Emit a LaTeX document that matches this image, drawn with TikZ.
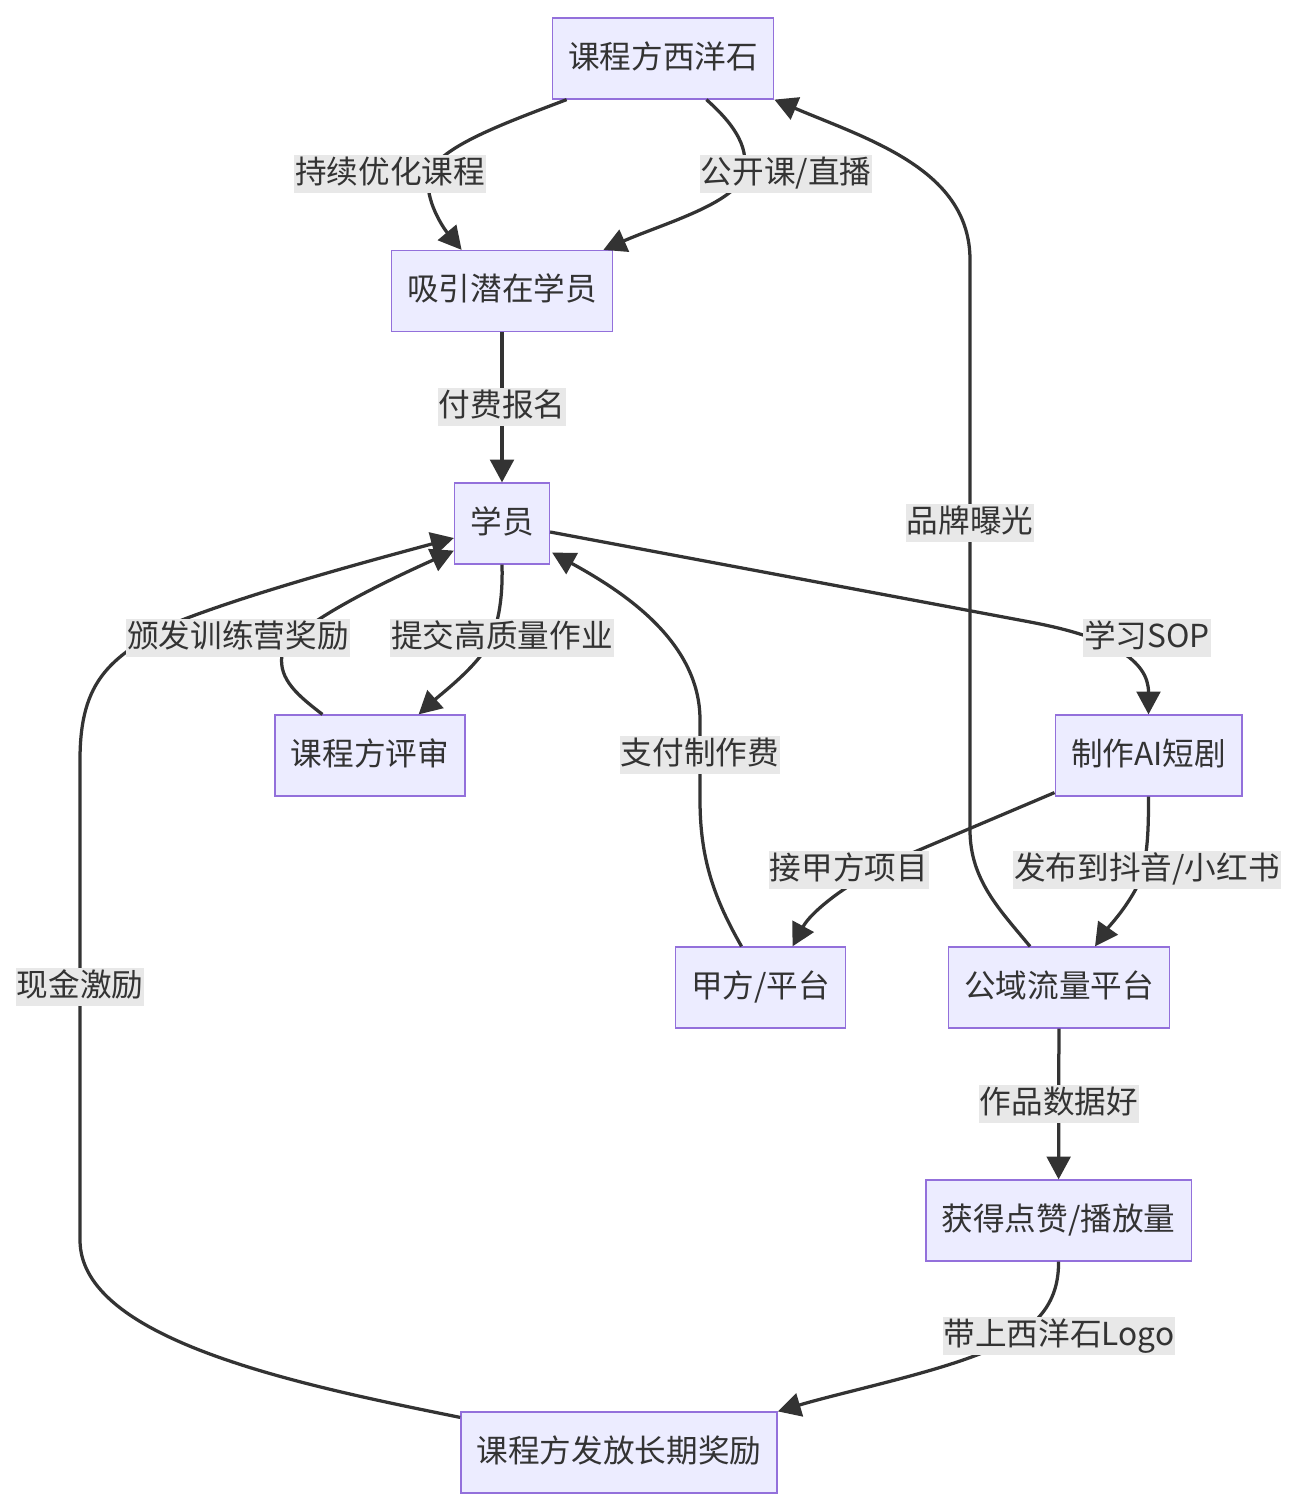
\documentclass[tikz,border=0pt]{standalone}
\usepackage{fontspec}
\setmainfont{Noto Sans CJK SC}
\usetikzlibrary{arrows.meta,calc}
\definecolor{nodefill}{HTML}{ECECFF}
\definecolor{nodeline}{HTML}{9370DB}
\definecolor{ink}{HTML}{333333}
\definecolor{wash}{HTML}{E8E8E8}
\tikzset{
  font=\fontsize{18}{22}\selectfont,
  box/.style={draw=nodeline, fill=nodefill, line width=0.8pt, text=ink, minimum height=46pt,
              inner xsep=9pt, inner ysep=0pt, text height=14.5pt, text depth=3.5pt},
  arrow/.style={-{Triangle[length=13pt,width=13.5pt]}, draw=ink, line width=1.85pt},
  tag/.style={fill=wash, text=ink, inner xsep=0.5pt, inner ysep=1.8pt, text height=14.5pt, text depth=3.5pt},
}

\begin{document}
\begin{tikzpicture}[x=0.02cm, y=-0.02cm]
\useasboundingbox (0,0) rectangle (1300,1510);
% nodes
\node[box] (xys) at (663,58.5) {课程方西洋石};
\node[box] (qz) at (502,291) {吸引潜在学员};
\node[box] (xy) at (502,523.5) {学员};
\node[box] (ps) at (370,755.5) {课程方评审};
\node[box] (zz) at (1148.5,755.5) {制作AI短剧};
\node[box] (jf) at (760.5,987.5) {甲方/平台};
\node[box] (gy) at (1059,987.5) {公域流量平台};
\node[box] (hz) at (1058.5,1220.5) {获得点赞/播放量};
\node[box] (jl) at (619,1452.5) {课程方发放长期奖励};

% edges
\draw[arrow] ($(xys.south west)+(15,0)$) .. controls (500,125) and (430,150) .. (428,180)
  .. controls (427,205) and (445,230) .. ($(qz.north west)+(71,0)$);
\draw[arrow] ($(xys.south east)+(-68,0)$) .. controls (735,125) and (752,150) .. (742,178)
  .. controls (730,205) and (660,225) .. ($(qz.north east)+(-10,0)$);
\draw[arrow] (qz) -- (xy);
\draw[arrow] (xy.south) .. controls (503,600) and (498,630) .. (485,650)
  .. controls (470,672) and (440,695) .. ($(ps.north east)+(-47,0)$);
\draw[arrow] ($(ps.north west)+(48,0)$) .. controls (300,697) and (278,680) .. (282,655)
  .. controls (290,625) and (400,575) .. ($(xy.south west)+(0,-14)$);
\draw[arrow] ($(xy.east)+(0,8.5)$) -- (1030,622) .. controls (1110,637) and (1148.5,660) .. (zz.north);
\draw[arrow] ($(zz.south west)+(0,-4)$) -- (905,856) .. controls (855,877) and (812,910) .. ($(jf.north east)+(-54,0)$);
\draw[arrow] (zz.south) .. controls (1148.5,830) and (1148,860) .. (1138,885)
  .. controls (1125,910) and (1110,925) .. ($(gy.north)+(36,0)$);
\draw[arrow] ($(jf.north west)+(67,0)$) .. controls (715,900) and (700,860) .. (700,800) -- (700,720)
  .. controls (700,640) and (620,590) .. ($(xy.south east)+(2,-12)$);
\draw[arrow] ($(gy.north)+(-29,0)$) .. controls (1000,910) and (970,880) .. (970,830) -- (970,260)
  .. controls (970,170) and (870,140) .. (xys.south east);
\draw[arrow] (gy) -- (hz);
\draw[arrow] (hz.south) .. controls (1059,1300) and (1040,1325) .. (1000,1345)
  .. controls (950,1370) and (850,1390) .. (jl.north east);
\draw[arrow] ($(jl.north west)+(0,6)$) .. controls (300,1385) and (80,1340) .. (80,1240) -- (80,760)
  .. controls (80,680) and (110,655) .. (182,620) .. controls (260,590) and (380,558) .. ($(xy.west)+(0,14.5)$);

% edge labels
\node[tag] (t1) at (390,174) {持续优化课程};
\node[tag] (t2) at (786,174) {公开课/直播};
\node[tag] (t3) at (502,407) {付费报名};
\node[tag] (t4) at (238,638) {颁发训练营奖励};
\node[tag] (t5) at (502,638) {提交高质量作业};
\node[tag] (t6) at (1147,638) {学习SOP};
\node[tag] (t7) at (700,755) {支付制作费};
\node[tag] (t8) at (970,523) {品牌曝光};
\node[tag] (t9) at (849,870) {接甲方项目};
\node[tag] (t10) at (1147,870) {发布到抖音/小红书};
\node[tag] (t11) at (80,987) {现金激励};
\node[tag] (t12) at (1059,1104) {作品数据好};
\node[tag] (t13) at (1059,1336) {带上西洋石Logo};
\end{tikzpicture}
\end{document}
